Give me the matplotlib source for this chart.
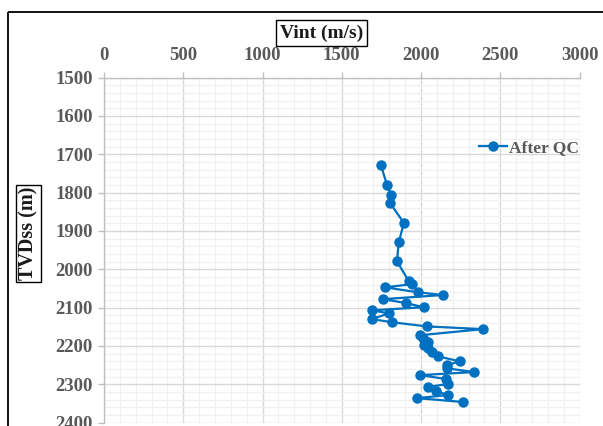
import matplotlib
matplotlib.use("Agg")
import matplotlib.pyplot as plt
from matplotlib.ticker import MultipleLocator
from matplotlib.patches import Rectangle

# Data
vint_after_qc = [1747, 1785, 1810, 1804, 1892, 1860, 1848, 1923, 1942, 1772,
                 1980, 2138, 1759, 1904, 2018, 1690, 1797, 1690, 1816, 2037,
                 2390, 1993, 2012, 2043, 2018, 2043, 2068, 2106, 2245, 2163,
                 2163, 2333, 1993, 2157, 2169, 2043, 2094, 2169, 1974, 2264]
tvdss_after_qc = [1728, 1780, 1806, 1827, 1879, 1929, 1979, 2031, 2039, 2047,
                  2060, 2067, 2078, 2088, 2099, 2107, 2115, 2130, 2138, 2149,
                  2156, 2172, 2180, 2190, 2198, 2206, 2216, 2227, 2240, 2250,
                  2258, 2268, 2276, 2286, 2299, 2307, 2317, 2328, 2336, 2346]
x_ticks = [0, 500, 1000, 1500, 2000, 2500, 3000]
y_ticks = [1500, 1600, 1700, 1800, 1900, 2000, 2100, 2200, 2300, 2400]
series_name = "After QC"
x_title = "Vint (m/s)"
y_title = "TVDss (m)"

plt.rcParams['font.family'] = ['Liberation Serif', 'DejaVu Serif']
plt.rcParams['font.weight'] = 'bold'

W, H = 603, 426
fig = plt.figure(figsize=(W / 100, H / 100), dpi=100)

# outer chart border (cropped at right/bottom like the reference)
fig.patches.append(Rectangle((8 / W, 1 - 12 / H), 2, -2, transform=fig.transFigure,
                             fill=False, edgecolor='black', linewidth=1.3,
                             figure=fig))

left, right, top, bottom = 104, 579.5, 77.5, 422.7
ax = fig.add_axes([left / W, 1 - bottom / H, (right - left) / W, (bottom - top) / H])

blue = '#0070C0'
ax.plot(vint_after_qc, tvdss_after_qc, color=blue, linewidth=1.6, marker='o',
        markersize=6.5, label=series_name, zorder=3)

ax.set_xlim(0, 3000)
ax.set_ylim(2400, 1500)
ax.set_xticks(x_ticks)
ax.set_yticks(y_ticks)
ax.xaxis.set_minor_locator(MultipleLocator(100))
ax.yaxis.set_minor_locator(MultipleLocator(20))
ax.xaxis.tick_top()

ax.grid(which='major', color='#d9d9d9', linewidth=1.0, zorder=0)
ax.grid(which='minor', color='#f0f0f0', linewidth=0.9, zorder=0)
ax.set_axisbelow(True)

for s in ['right', 'bottom']:
    ax.spines[s].set_visible(False)
for s in ['left', 'top']:
    ax.spines[s].set_color('#bfbfbf')
    ax.spines[s].set_linewidth(1.0)

ax.tick_params(which='major', length=4, width=1, color='#bfbfbf',
               labelsize=13.5, labelcolor='#595959')
ax.tick_params(axis='x', pad=6)
ax.tick_params(axis='y', pad=4)
ax.tick_params(which='minor', length=0)
for lab in ax.get_xticklabels() + ax.get_yticklabels():
    lab.set_fontweight('bold')

# axis titles with boxes
fig.text(321.5 / W, 1 - 33 / H, x_title, ha='center', va='center', fontsize=14,
         fontweight='bold', color='#1a1a1a',
         bbox=dict(boxstyle='square,pad=0.2', facecolor='white',
                   edgecolor='black', linewidth=1.0))
fig.text(28.5 / W, 1 - 233.5 / H, y_title, ha='center', va='center', fontsize=14.5,
         fontweight='bold', color='#1a1a1a', rotation=90,
         bbox=dict(boxstyle='square,pad=0.1', facecolor='white',
                   edgecolor='black', linewidth=1.0))

leg = ax.legend(loc='center left', bbox_to_anchor=(479 / W, 1 - 148 / H),
                bbox_transform=fig.transFigure, frameon=False, fontsize=12.5,
                handlelength=1.6, handletextpad=0.1, borderpad=0,
                borderaxespad=0, labelcolor='#595959')
for t in leg.get_texts():
    t.set_fontweight('bold')

fig.savefig('out.png', dpi=100)
